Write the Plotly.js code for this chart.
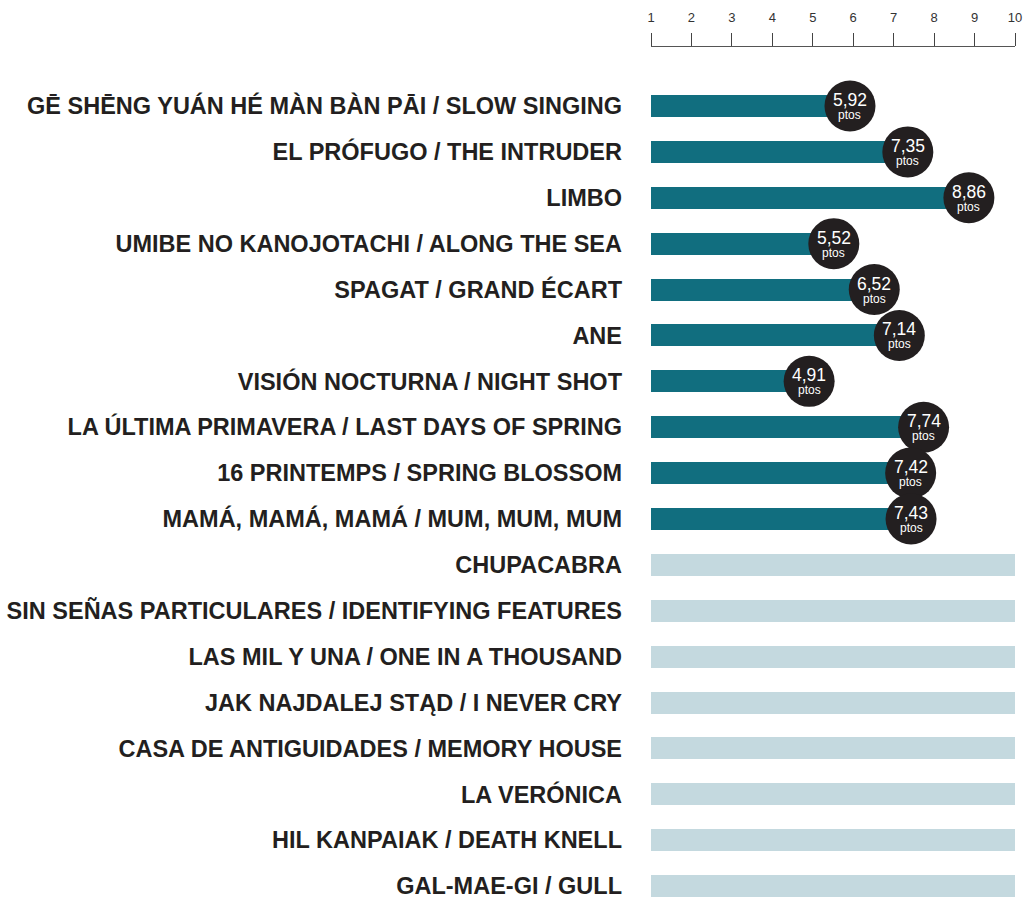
<!DOCTYPE html>
<html>
<head>
<meta charset="utf-8">
<script src="https://cdn.plot.ly/plotly-3.0.1.min.js"></script>
<style>
  html, body { margin: 0; padding: 0; background: #ffffff; }
  #chart { width: 1028px; height: 900px; }
</style>
</head>
<body>
<div id="chart"></div>
<script>
// Films in display order (top to bottom)
const films = [
  "GĒ SHĒNG YUÁN HÉ MÀN BÀN PĀI / SLOW SINGING",
  "EL PRÓFUGO / THE INTRUDER",
  "LIMBO",
  "UMIBE NO KANOJOTACHI / ALONG THE SEA",
  "SPAGAT / GRAND ÉCART",
  "ANE",
  "VISIÓN NOCTURNA / NIGHT SHOT",
  "LA ÚLTIMA PRIMAVERA / LAST DAYS OF SPRING",
  "16 PRINTEMPS / SPRING BLOSSOM",
  "MAMÁ, MAMÁ, MAMÁ / MUM, MUM, MUM",
  "CHUPACABRA",
  "SIN SEÑAS PARTICULARES / IDENTIFYING FEATURES",
  "LAS MIL Y UNA / ONE IN A THOUSAND",
  "JAK NAJDALEJ STĄD / I NEVER CRY",
  "CASA DE ANTIGUIDADES / MEMORY HOUSE",
  "LA VERÓNICA",
  "HIL KANPAIAK / DEATH KNELL",
  "GAL-MAE-GI / GULL"
];
// Rated films and their scores
const ratedFilms = films.slice(0, 10);
const scores = [5.92, 7.35, 8.86, 5.52, 6.52, 7.14, 4.91, 7.74, 7.42, 7.43];
// Films not yet rated (shown as full-length light bars)
const pendingFilms = films.slice(10);
const scaleMin = 1;
const scaleMax = 10;
const tickValues = [1, 2, 3, 4, 5, 6, 7, 8, 9, 10];
const unitLabel = "ptos";

const fmt = v => v.toFixed(2).replace('.', ',');
const font = 'Liberation Sans, Arial, sans-serif';

const traces = [
  {
    type: 'bar',
    orientation: 'h',
    y: pendingFilms,
    x: pendingFilms.map(() => scaleMax - scaleMin),
    base: scaleMin,
    width: 0.48,
    marker: { color: '#c4d9df', line: { width: 0 } },
    hoverinfo: 'skip',
    showlegend: false
  },
  {
    type: 'bar',
    orientation: 'h',
    y: ratedFilms,
    x: scores.map(v => v - scaleMin),
    base: scaleMin,
    width: 0.48,
    marker: { color: '#116e7f', line: { width: 0 } },
    hoverinfo: 'skip',
    showlegend: false
  },
  {
    type: 'scatter',
    mode: 'markers',
    y: ratedFilms,
    x: scores,
    marker: { size: 51, color: '#231f20', line: { width: 0 } },
    hoverinfo: 'skip',
    showlegend: false,
    cliponaxis: false
  }
];

const annotations = [];
scores.forEach((v, i) => {
  annotations.push({
    x: v, y: ratedFilms[i], xref: 'x', yref: 'y',
    text: fmt(v), showarrow: false, yshift: 6,
    font: { family: font, size: 17.5, color: '#ffffff' }
  });
  annotations.push({
    x: v, y: ratedFilms[i], xref: 'x', yref: 'y',
    text: unitLabel, showarrow: false, yshift: -9,
    font: { family: font, size: 12, color: '#ffffff' }
  });
});

const layout = {
  width: 1028,
  height: 900,
  margin: { l: 651, r: 13, t: 47, b: 2, pad: 0 },
  paper_bgcolor: '#ffffff',
  plot_bgcolor: '#ffffff',
  bargap: 0,
  barmode: 'overlay',
  annotations: annotations,
  xaxis: {
    side: 'top',
    range: [scaleMin, scaleMax],
    tickvals: tickValues,
    ticktext: tickValues.map(String),
    ticks: 'outside',
    ticklen: 13,
    tickwidth: 1,
    tickcolor: '#444444',
    showline: true,
    linecolor: '#555555',
    linewidth: 1.5,
    showgrid: false,
    zeroline: false,
    ticklabelstandoff: 5,
    tickfont: { family: font, size: 13, color: '#333333' },
    fixedrange: true
  },
  yaxis: {
    type: 'category',
    categoryorder: 'array',
    categoryarray: films,
    range: [17.26, -1.286],
    showgrid: false,
    zeroline: false,
    showline: false,
    ticks: '',
    ticklabelstandoff: 28,
    tickfont: { family: font, size: 23.5, color: '#231f20', weight: 'bold' },
    fixedrange: true
  }
};

Plotly.newPlot('chart', traces, layout, { displayModeBar: false, staticPlot: true });
</script>
</body>
</html>
